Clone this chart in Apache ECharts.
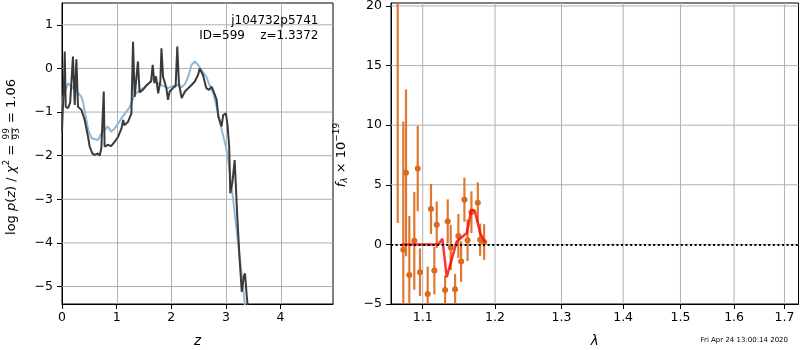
<!DOCTYPE html>
<html><head><meta charset="utf-8">
<script src="https://cdn.jsdelivr.net/npm/echarts@6/dist/echarts.min.js"></script>
<style>html,body{margin:0;padding:0;background:#fff}#c{width:800px;height:350px}</style>
</head><body><div id="c"></div>
<script>
// ---------- left panel: log p(z) ----------
const pzZ = [0.0,0.007,0.037,0.05,0.068,0.11,0.15,0.2,0.233,0.263,0.293,0.355,0.415,0.476,0.507,0.556,0.6,0.63,0.66,0.69,0.72,0.745,0.764,0.78,0.84,0.9,0.965,1.03,1.09,1.12,1.14,1.21,1.27,1.30,1.33,1.36,1.39,1.42,1.48,1.55,1.63,1.66,1.69,1.72,1.76,1.80,1.82,1.85,1.91,1.94,1.97,2.03,2.08,2.11,2.14,2.19,2.25,2.37,2.43,2.49,2.52,2.58,2.64,2.69,2.74,2.80,2.83,2.86,2.92,2.95,3.0,3.03,3.06,3.08,3.12,3.16,3.21,3.25,3.29,3.33,3.35,3.38,3.41];
const pzLog = [-1.45,-1.18,-0.30,0.385,-0.88,-0.91,-0.78,0.27,-0.84,0.21,-0.88,-0.95,-1.18,-1.56,-1.79,-1.95,-1.98,-2.02,-1.95,-2.0,-1.83,-1.8,-0.53,-1.79,-1.75,-1.78,-1.68,-1.56,-1.37,-1.18,-1.3,-1.22,-1.03,0.61,-0.65,-0.68,0.16,-0.55,-0.49,-0.38,-0.3,0.08,-0.34,-0.18,-0.57,-0.3,0.46,-0.19,-0.45,-0.72,-0.53,-0.45,-0.4,0.5,-0.34,-0.68,-0.53,-0.38,-0.3,-0.15,0.0,-0.15,-0.45,-0.49,-0.42,-0.61,-0.72,-1.1,-1.33,-1.07,-1.03,-1.3,-1.79,-2.86,-2.6,-2.1,-3.44,-4.35,-5.12,-4.75,-4.7,-5.2,-5.6];
const priorZ = [0.0,0.02,0.11,0.2,0.29,0.355,0.39,0.434,0.48,0.54,0.66,0.72,0.78,0.84,0.9,0.96,1.03,1.09,1.18,1.24,1.33,1.42,1.55,1.64,1.68,1.76,1.85,1.94,2.03,2.12,2.19,2.25,2.31,2.37,2.43,2.49,2.55,2.64,2.70,2.77,2.83,2.89,2.94,3.0,3.04,3.13,3.22,3.31,3.36];
const priorLog = [-0.85,-0.65,-0.34,-0.45,-0.56,-0.65,-0.8,-1.1,-1.41,-1.6,-1.64,-1.49,-1.41,-1.33,-1.45,-1.38,-1.26,-1.14,-0.99,-0.88,-0.61,-0.5,-0.4,-0.26,-0.24,-0.34,-0.4,-0.45,-0.4,-0.38,-0.43,-0.36,-0.19,0.08,0.16,0.08,-0.03,-0.19,-0.38,-0.57,-0.88,-1.22,-1.49,-1.79,-2.06,-2.98,-3.97,-4.97,-5.6];
const zTicks = [0,1,2,3,4];
const logTicks = [-5,-4,-3,-2,-1,0,1];
const zRange = [0, 4.96];
const logRange = [-5.4, 1.5];

// ---------- right panel: spectrum ----------
const specLam  = [1.0674,1.0746,1.0781,1.0824,1.0889,1.0934,1.0964,1.1066,1.1110,1.1155,1.1187,1.1300,1.1336,1.1377,1.1437,1.1482,1.1520,1.1566,1.1610,1.1664,1.1754,1.1787,1.1844];
const specFlux = [22,-0.45,6.0,-2.56,0.3,6.36,-2.33,-4.16,2.97,-2.2,1.65,-3.82,1.93,-0.25,-3.77,0.7,-1.44,3.75,0.35,2.7,3.5,0.4,0.2];
const specErr  = [20.2,10.75,7.0,4.95,4.1,3.58,2.0,2.3,2.1,2.0,1.95,1.2,1.85,1.9,1.3,1.85,1.7,1.85,1.75,1.75,1.7,1.35,1.5];
const modelLam  = [1.0725,1.1209,1.1263,1.1323,1.1460,1.1599,1.1664,1.1710,1.1787,1.1858];
const modelFlux = [0,0,0.47,-2.75,0.25,0.95,2.9,2.85,0.95,0.16];
const lamTicks = [1.1,1.2,1.3,1.4,1.5,1.6,1.7];
const fluxTicks = [-5,0,5,10,15,20];
const lamRange = [1.0588, 1.729];
const fluxRange = [-5, 20.25];

const FF = '"DejaVu Sans"';
const ORANGE = '#dc6a1c';
const GRID = '#b0b0b0';
const minus = v => String(v).replace('-', '\u2212');

const ctx = document.createElement('canvas').getContext('2d');
function seq(pieces, fs) {
  let x = 0; const children = [];
  pieces.forEach(p => {
    if (p.frac) {
      const f = 9 + 'px ' + FF;
      ctx.font = f;
      const fw = Math.max(ctx.measureText(p.frac[0]).width, ctx.measureText(p.frac[1]).width) + 2;
      children.push({type:'text', x:x+fw/2, y:-5, style:{text:p.frac[0], font:f, fill:'#000', align:'center', verticalAlign:'middle'}});
      children.push({type:'text', x:x+fw/2, y:5.5, style:{text:p.frac[1], font:f, fill:'#000', align:'center', verticalAlign:'middle'}});
      children.push({type:'line', shape:{x1:x+0.5, y1:0.5, x2:x+fw-0.5, y2:0.5}, style:{stroke:'#000', lineWidth:0.8}});
      x += fw;
      return;
    }
    const size = p.s || fs;
    const f = (p.it ? 'italic ' : '') + size + 'px ' + FF;
    ctx.font = f;
    const w = ctx.measureText(p.t).width;
    children.push({type:'text', x:x, y:p.dy||0, style:{text:p.t, font:f, fill:'#000', verticalAlign:'middle'}});
    x += w;
  });
  return {children, width:x};
}
const yl1 = seq([{t:'log '},{t:'p',it:true},{t:'('},{t:'z',it:true},{t:') / '},{t:'\u03c7',it:true},{t:'2',s:9,dy:-5},{t:' = '},{frac:['99','93']},{t:' = 1.06'}], 13);
const yl2 = seq([{t:'f',it:true},{t:'\u03bb',it:true,s:9,dy:3},{t:' \u00d7 10'},{t:'\u221219',s:9,dy:-5}], 13);

// grid lines as plain line series through the axes' scales
function gridSeries(xi, xTicks, yTicks, xr, yr) {
  const base = {type:'line', xAxisIndex:xi, yAxisIndex:xi, z:1, silent:true, symbol:'none', showSymbol:false,
    lineStyle:{color:GRID, width:1}, clip:false, animation:false};
  return xTicks.map(v => Object.assign({}, base, {data:[[v, yr[0]], [v, yr[1]]]}))
    .concat(yTicks.map(v => Object.assign({}, base, {data:[[xr[0], v], [xr[1], v]]})));
}

const chart = echarts.init(document.getElementById('c'), null, {renderer:'canvas'});
const axisLine = {show:true, onZero:false, lineStyle:{color:'#000', width:1}};
const labelStyle = {fontFamily:FF, fontSize:12.5, color:'#000'};
const nameStyle = {fontFamily:FF, fontStyle:'italic', fontSize:13.5, color:'#000'};
chart.setOption({
  animation:false,
  backgroundColor:'#fff',
  grid:[
    {left:62, top:3, width:271, height:301, show:true, borderColor:'#000', borderWidth:1, backgroundColor:'transparent', containLabel:false, outerBoundsMode:'none'},
    {left:391, top:3, width:407.5, height:301, show:true, borderColor:'#000', borderWidth:1, backgroundColor:'transparent', containLabel:false, outerBoundsMode:'none'}
  ],
  xAxis:[
    {gridIndex:0, type:'value', min:zRange[0], max:zRange[1], axisLine:axisLine,
      splitLine:{show:false},
      axisTick:{show:true, length:5, customValues:zTicks, lineStyle:{color:'#000'}},
      axisLabel:Object.assign({customValues:zTicks, formatter:minus, margin:7}, labelStyle),
      name:'z', nameLocation:'middle', nameGap:30, nameTextStyle:nameStyle},
    {gridIndex:1, type:'log', logBase:10, min:lamRange[0], max:lamRange[1], axisLine:axisLine,
      splitLine:{show:false},
      axisTick:{show:true, length:5, customValues:lamTicks, lineStyle:{color:'#000'}},
      axisLabel:Object.assign({customValues:lamTicks, formatter:v=>Number(v).toFixed(1), margin:7}, labelStyle),
      name:'\u03bb', nameLocation:'middle', nameGap:30, nameTextStyle:nameStyle}
  ],
  yAxis:[
    {gridIndex:0, type:'value', min:logRange[0], max:logRange[1], axisLine:axisLine,
      splitLine:{show:false},
      axisTick:{show:true, length:5, customValues:logTicks, lineStyle:{color:'#000'}},
      axisLabel:Object.assign({customValues:logTicks, formatter:minus, margin:9}, labelStyle)},
    {gridIndex:1, type:'value', min:fluxRange[0], max:fluxRange[1], axisLine:axisLine,
      splitLine:{show:false},
      axisTick:{show:true, length:5, customValues:fluxTicks, lineStyle:{color:'#000'}},
      axisLabel:Object.assign({customValues:fluxTicks, formatter:minus, margin:9}, labelStyle)}
  ],
  series: gridSeries(0, [], logTicks, zRange, logRange)
    .concat(gridSeries(1, lamTicks, fluxTicks.filter(v=>v>fluxRange[0]), lamRange, fluxRange))
    .concat([
    {type:'line', xAxisIndex:0, yAxisIndex:0, data:priorZ.map((z,i)=>[z,priorLog[i]]), showSymbol:false, symbol:'none',
      lineStyle:{color:'#8cb9da', width:2}, z:2, clip:true},
    {type:'line', xAxisIndex:0, yAxisIndex:0, data:pzZ.map((z,i)=>[z,pzLog[i]]), showSymbol:false, symbol:'none',
      lineStyle:{color:'#3a3a3a', width:2}, z:3, clip:true},
    {type:'custom', xAxisIndex:1, yAxisIndex:1, clip:true, z:3,
      data:specLam.map((l,i)=>[l,specFlux[i],specErr[i]]),
      renderItem:function(params, api){
        const x=api.value(0), y=api.value(1), e=api.value(2);
        const p=api.coord([x,y]), lo=api.coord([x,y-e]), hi=api.coord([x,y+e]);
        return {type:'group', children:[
          {type:'line', shape:{x1:p[0],y1:lo[1],x2:p[0],y2:hi[1]}, style:{stroke:ORANGE, lineWidth:2.2, opacity:0.9}},
          {type:'circle', shape:{cx:p[0],cy:p[1],r:3}, style:{fill:ORANGE}}
        ]};
      }},
    {type:'line', xAxisIndex:1, yAxisIndex:1, data:modelLam.map((l,i)=>[l,modelFlux[i]]), showSymbol:false, symbol:'none',
      lineStyle:{color:'rgba(255,0,0,0.8)', width:2.5}, z:4, clip:true,
      markLine:{silent:true, symbol:'none', label:{show:false}, z:5, animation:false,
        lineStyle:{color:'#000', type:[2,2.6], width:1.8, cap:'butt'}, data:[{yAxis:0}]}}
  ])
});

// vertical grid lines of the left panel, placed with the x axis's own scale (convertToPixel)
const yTop = chart.convertToPixel({yAxisIndex:0}, logRange[1]);
const yBot = chart.convertToPixel({yAxisIndex:0}, logRange[0]);
const leftVGrid = zTicks.filter(v=>v>zRange[0]).map(v => {
  const x = Math.round(chart.convertToPixel({xAxisIndex:0}, v)) + 0.5;
  return {type:'line', z:1, silent:true, shape:{x1:x, y1:yTop, x2:x, y2:yBot}, style:{stroke:GRID, lineWidth:1}};
});

chart.setOption({
  graphic: leftVGrid.concat([
    {type:'text', x:318.5, y:21, z:10, style:{text:'j104732p5741', font:'12px '+FF, fill:'#000', align:'right', verticalAlign:'middle'}},
    {type:'text', x:318.5, y:35.5, z:10, style:{text:'ID=599    z=1.3372', font:'12px '+FF, fill:'#000', align:'right', verticalAlign:'middle'}},
    {type:'text', x:788, y:340, z:10, style:{text:'Fri Apr 24 13:00:14 2020', font:'7px '+FF, fill:'#000', align:'right', verticalAlign:'middle'}},
    {type:'group', x:11.5, y:157+yl1.width/2, rotation:Math.PI/2, z:10, children:yl1.children},
    {type:'group', x:342, y:155+yl2.width/2, rotation:Math.PI/2, z:10, children:yl2.children}
  ])
});
</script></body></html>
